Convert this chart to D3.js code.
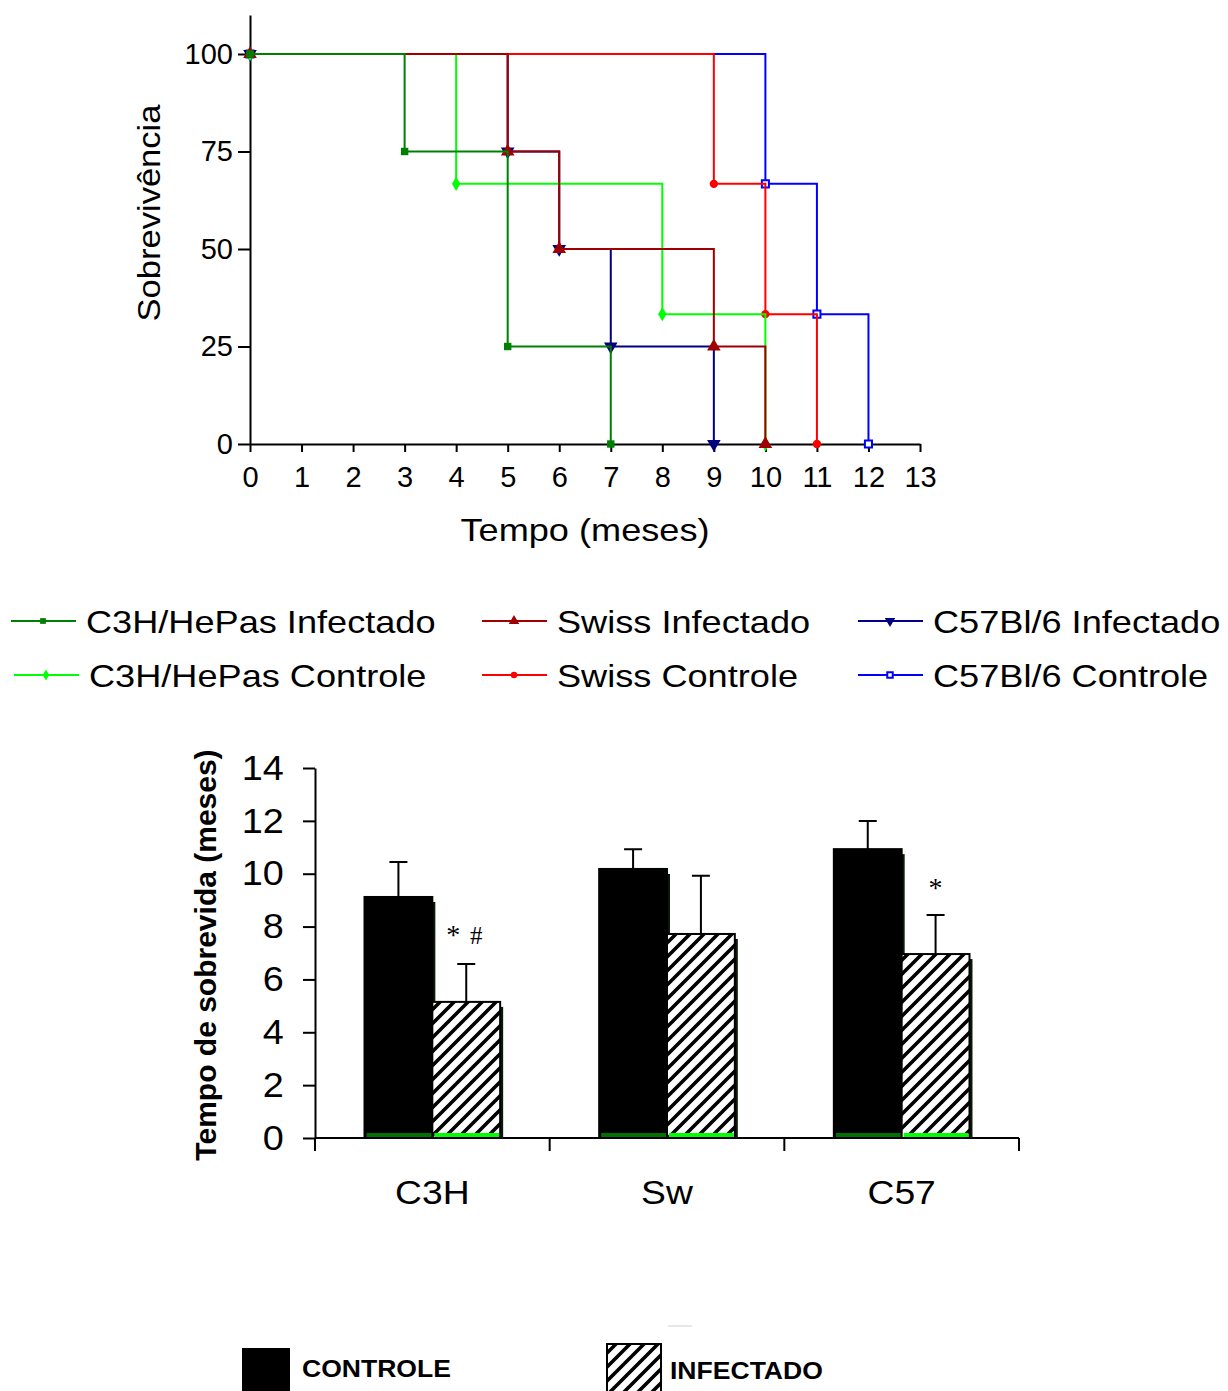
<!DOCTYPE html>
<html>
<head>
<meta charset="utf-8">
<script src="https://cdn.jsdelivr.net/npm/d3@7"></script>
<style>
  body { margin: 0; background: #fff; }
  svg { display: block; font-family: "Liberation Sans", Arial, sans-serif; }
</style>
</head>
<body>
<div id="vizcontainer"></div>
<script>
// ---- data ----
const meses = [0, 1, 2, 3, 4, 5, 6, 7, 8, 9, 10, 11, 12, 13];
const sobrevivenciaTicks = [0, 25, 50, 75, 100];

// [mes, % sobrevivencia] at each step of the Kaplan-Meier curves
const c3hInfectado = [[0, 100], [3, 75], [5, 25], [7, 0]];
const c3hControle = [[0, 100], [4, 66.7], [8, 33.3], [10, 0]];
const swissInfectado = [[0, 100], [5, 75], [6, 50], [9, 25], [10, 0]];
const swissControle = [[0, 100], [9, 66.7], [10, 33.3], [11, 0]];
const c57Infectado = [[0, 100], [5, 75], [6, 50], [7, 25], [9, 0]];
const c57Controle = [[0, 100], [10, 66.7], [11, 33.3], [12, 0]];

const linhagens = ['C3H', 'Sw', 'C57'];
const grupos = ['CONTROLE', 'INFECTADO'];
const controleMedia = [9.12, 10.18, 10.93];
const controleErro = [1.32, 0.75, 1.06];
const infectadoMedia = [5.15, 7.72, 6.96];
const infectadoErro = [1.43, 2.2, 1.48];
const significancia = [['*', '#'], [], ['*']];
const sobrevidaTicks = [0, 2, 4, 6, 8, 10, 12, 14];

// ---- layout ----
const W = 1228, H = 1391;
const sx = 1.13; // lettering in the original runs a bit wide

const series = [
  { nome: 'C57Bl/6 Controle', data: c57Controle, cor: '#0000ff', sym: d3.symbolSquare, size: 50, open: true, rot: 0, col: 2, row: 1 },
  { nome: 'C57Bl/6 Infectado', data: c57Infectado, cor: '#000080', sym: d3.symbolTriangle, size: 80, rot: 180, col: 2, row: 0 },
  { nome: 'Swiss Controle', data: swissControle, cor: '#ff0000', sym: d3.symbolCircle, size: 55, rot: 0, col: 1, row: 1 },
  { nome: 'C3H/HePas Controle', data: c3hControle, cor: '#00ff00', sym: d3.symbolDiamond, size: 60, rot: 0, col: 0, row: 1 },
  { nome: 'Swiss Infectado', data: swissInfectado, cor: '#a00000', sym: d3.symbolTriangle, size: 80, rot: 0, col: 1, row: 0 },
  { nome: 'C3H/HePas Infectado', data: c3hInfectado, cor: '#008000', sym: d3.symbolSquare, size: 55, rot: 0, col: 0, row: 0 },
];

const svg = d3.select('#vizcontainer')
  .append('svg')
  .attr('width', W)
  .attr('height', H)
  ;

const defs = svg.append('defs');
const hatch = defs.append('pattern')
  .attr('id', 'hatch')
  .attr('patternUnits', 'userSpaceOnUse')
  .attr('width', 14)
  .attr('height', 14)
  ;
hatch.append('rect')
  .attr('width', 14)
  .attr('height', 14)
  .attr('fill', 'white')
  ;
hatch.append('path')
  .attr('d', 'M-3.5,3.5 L3.5,-3.5 M0,14 L14,0 M10.5,17.5 L17.5,10.5')
  .attr('stroke', 'black')
  .attr('stroke-width', 3.6)
  ;

// stretched text helper
const label = (g, txt, x, y, size, opts = {}) => {
  return g.append('text')
    .attr('transform', `translate(${x},${y}) scale(${sx},1)`)
    .attr('text-anchor', opts.anchor || 'start')
    .style('font-size', size + 'px')
    .style('font-weight', opts.bold ? 'bold' : 'normal')
    .text(txt)
    ;
};

// ================= Kaplan-Meier =================
const x = d3.scaleLinear().domain([0, 13]).range([250, 920]);
const y = d3.scaleLinear().domain([0, 110]).range([444, 15]);

const km = svg.append('g').attr('id', 'survival');

km.append('g')
  .attr('transform', `translate(${x(0)},0)`)
  .call(d3.axisLeft(y).tickValues(sobrevivenciaTicks).tickSize(12).tickPadding(5).tickSizeOuter(0))
  .call(g => g.selectAll('path,line').attr('stroke', 'black').attr('stroke-width', 2))
  .call(g => g.selectAll('text').style('font-size', '29px').attr('fill', 'black'))
  .attr('font-family', null)
  ;

km.append('g')
  .attr('transform', `translate(0,${y(0)})`)
  .call(d3.axisBottom(x).tickValues(meses).tickSize(8).tickPadding(14).tickSizeOuter(0))
  .call(g => g.selectAll('path,line').attr('stroke', 'black').attr('stroke-width', 2))
  .call(g => g.selectAll('text').style('font-size', '29px').attr('fill', 'black'))
  .attr('font-family', null)
  ;

km.append('text')
  .attr('transform', `translate(160,213) rotate(-90) scale(1.08,1)`)
  .attr('text-anchor', 'middle')
  .style('font-size', '32px')
  .text('Sobrevivência')
  ;
label(km, 'Tempo (meses)', 585, 541, 32, { anchor: 'middle' });

const line = d3.line()
  .x(d => x(d[0]))
  .y(d => y(d[1]))
  .curve(d3.curveStepAfter)
  ;

const marker = (sel, s) => sel
  .attr('d', d3.symbol().type(s.sym).size(s.size)())
  .attr('fill', s.open ? 'white' : s.cor)
  .attr('stroke', s.open ? s.cor : 'none')
  .attr('stroke-width', 2)
  ;

series.forEach(s => {
  const g = km.append('g');
  g.append('path')
    .datum(s.data)
    .attr('d', line)
    .attr('fill', 'none')
    .attr('stroke', s.cor)
    .attr('stroke-width', 2)
    ;
  g.selectAll('path.m')
    .data(s.data)
    .join('path')
    .attr('class', 'm')
    .attr('transform', d => `translate(${x(d[0])},${y(d[1])}) rotate(${s.rot})`)
    .call(marker, s)
    ;
});

// legend
const legCols = [11, 482, 858];
const legRows = [621, 675];
const leg = svg.append('g').attr('id', 'legend');
['C3H/HePas Infectado', 'Swiss Infectado', 'C57Bl/6 Infectado',
  'C3H/HePas Controle', 'Swiss Controle', 'C57Bl/6 Controle'].forEach(nome => {
    const s = series.find(d => d.nome === nome);
    const lx = legCols[s.col] + (s.row === 1 && s.col === 0 ? 3 : 0), ly = legRows[s.row];
    leg.append('line')
      .attr('x1', lx).attr('x2', lx + 65)
      .attr('y1', ly).attr('y2', ly)
      .attr('stroke', s.cor)
      .attr('stroke-width', 2)
      ;
    leg.append('path')
      .attr('transform', `translate(${lx + 32},${ly}) rotate(${s.rot})`)
      .call(marker, { ...s, size: s.size * 0.6 })
      ;
    label(leg, nome, lx + 75, ly + 12, 32);
  });

// ================= Bar chart =================
const yb = d3.scaleLinear().domain([0, 14]).range([1138, 768]);
const xb = d3.scaleBand().domain(linhagens).range([315, 1019]);
const x1 = d3.scaleBand().domain(grupos).range([0, xb.bandwidth()]).paddingOuter(0.73);

const bars = svg.append('g').attr('id', 'bars');

bars.append('g')
  .attr('transform', 'translate(315,0)')
  .call(d3.axisLeft(yb).tickValues(sobrevidaTicks).tickSize(12).tickPadding(17).tickSizeOuter(0))
  .call(g => g.selectAll('path,line').attr('stroke', 'black').attr('stroke-width', 2))
  .call(g => g.selectAll('text').attr('transform', 'scale(1.08,1)').style('font-size', '35px').attr('fill', 'black'))
  .attr('font-family', null)
  ;

const xAxis = bars.append('g').attr('transform', `translate(0,${yb(0)})`);
xAxis.append('line')
  .attr('x1', 315).attr('x2', 1019)
  .attr('stroke', 'black').attr('stroke-width', 2)
  ;
xAxis.selectAll('line.tick')
  .data([...linhagens.map(d => xb(d)), xb.range()[1]])
  .join('line')
  .attr('class', 'tick')
  .attr('x1', d => d).attr('x2', d => d)
  .attr('y1', 0).attr('y2', 13)
  .attr('stroke', 'black').attr('stroke-width', 2)
  ;
linhagens.forEach(l => label(xAxis, l, xb(l) + xb.bandwidth() / 2, 66, 33, { anchor: 'middle' }));

bars.append('text')
  .attr('transform', 'translate(216,955) rotate(-90)')
  .attr('text-anchor', 'middle')
  .style('font-size', '30px')
  .style('font-weight', 'bold')
  .text('Tempo de sobrevida (meses)')
  ;

const barData = [];
linhagens.forEach((l, i) => {
  barData.push({ l, g: 'CONTROLE', v: controleMedia[i], e: controleErro[i] });
  barData.push({ l, g: 'INFECTADO', v: infectadoMedia[i], e: infectadoErro[i] });
});
const bx = d => xb(d.l) + x1(d.g);
const bw = x1.bandwidth();

// shadows
bars.append('g')
  .selectAll('rect')
  .data(barData)
  .join('rect')
  .attr('x', d => bx(d) + 3)
  .attr('y', d => yb(d.v) + 5)
  .attr('width', bw)
  .attr('height', d => yb(0) - yb(d.v) - 5)
  .attr('fill', '#0a1a0a')
  ;

// error bars
bars.append('g')
  .selectAll('path')
  .data(barData)
  .join('path')
  .attr('d', d => {
    const cx = bx(d) + bw / 2;
    return `M${cx},${yb(d.v)} V${yb(d.v + d.e)} M${cx - 9},${yb(d.v + d.e)} H${cx + 9}`;
  })
  .attr('stroke', 'black')
  .attr('stroke-width', 2)
  .attr('fill', 'none')
  ;

bars.append('g')
  .selectAll('rect')
  .data(barData)
  .join('rect')
  .attr('x', d => bx(d))
  .attr('y', d => yb(d.v))
  .attr('width', bw)
  .attr('height', d => yb(0) - yb(d.v))
  .attr('fill', d => d.g === 'CONTROLE' ? 'black' : 'url(#hatch)')
  .attr('stroke', 'black')
  .attr('stroke-width', 2)
  ;

// green strips at the foot of each bar
bars.append('g')
  .selectAll('rect')
  .data(barData)
  .join('rect')
  .attr('x', d => bx(d) + 2)
  .attr('y', yb(0) - 5)
  .attr('width', bw - 3)
  .attr('height', 4)
  .attr('fill', d => d.g === 'CONTROLE' ? '#007000' : '#00ff00')
  ;

// significance marks
linhagens.forEach((l, i) => {
  const cx = xb(l) + x1('INFECTADO') + bw / 2;
  const errTop = yb(infectadoMedia[i] + infectadoErro[i]);
  const marks = significancia[i];
  marks.forEach((m, j) => {
    const off = marks.length === 1 ? 0 : (j === 0 ? -13 : 10);
    bars.append('text')
      .attr('x', cx + off)
      .attr('y', marks.length === 1 ? errTop - 18 : errTop - 20)
      .attr('text-anchor', 'middle')
      .style('font-family', '"Liberation Serif", "Times New Roman", serif')
      .style('font-size', m === '*' ? '28px' : '25px')
      .text(m)
      ;
  });
});

// bar legend
const leg2 = svg.append('g').attr('id', 'legend2');
leg2.append('rect')
  .attr('x', 242).attr('y', 1348).attr('width', 48).attr('height', 50)
  .attr('fill', 'black')
  ;
label(leg2, 'CONTROLE', 302, 1377, 23.5, { bold: true });
leg2.append('rect')
  .attr('x', 607).attr('y', 1344).attr('width', 54).attr('height', 50)
  .attr('fill', 'url(#hatch)')
  .attr('stroke', 'black')
  .attr('stroke-width', 2)
  ;
label(leg2, 'INFECTADO', 670, 1379, 23.5, { bold: true });
leg2.append('line')
  .attr('x1', 668).attr('x2', 692)
  .attr('y1', 1326).attr('y2', 1326)
  .attr('stroke', '#d0d0d0')
  .attr('stroke-width', 1)
  ;
</script>
</body>
</html>
